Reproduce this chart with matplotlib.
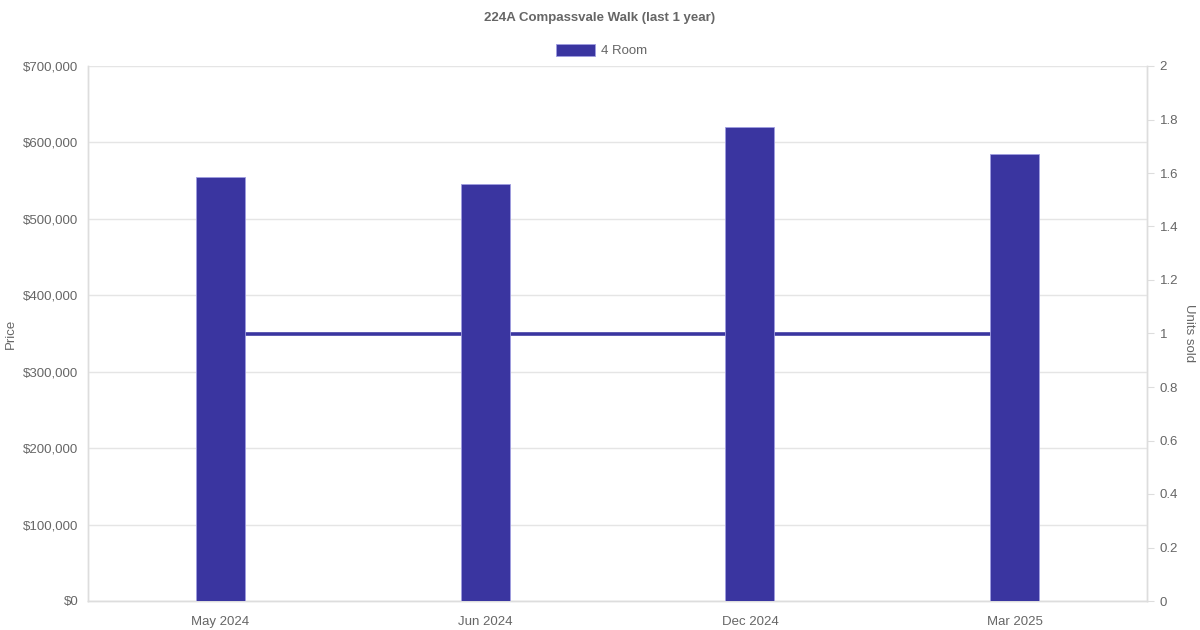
import matplotlib
matplotlib.use('Agg')
import matplotlib.pyplot as plt
from matplotlib.ticker import FuncFormatter, MultipleLocator

plt.rcParams['font.family'] = ['Liberation Sans', 'DejaVu Sans']

# Data
months = ['May 2024', 'Jun 2024', 'Dec 2024', 'Mar 2025']
prices = [555000, 545000, 620000, 585000]
units_sold = [1, 1, 1, 1]

bar_color = '#3a35a0'
text_color = '#666666'
grid_color = '#e5e5e5'

fig = plt.figure(figsize=(12, 6.3), dpi=100)
W, H = 1200, 630
ax = fig.add_axes([88 / W, 1 - 601 / H, (1147 - 88) / W, (601 - 66) / H])
ax2 = ax.twinx()

x = list(range(len(months)))

# line on right axis, drawn behind bars
ax2.plot(x, units_sold, color=bar_color, lw=2.6, zorder=1)
ax2.set_zorder(0)
ax.set_zorder(1)
ax.patch.set_visible(False)

ax.bar(x, prices, width=0.185, color=bar_color, edgecolor='#9f9de0',
       linewidth=0.6, zorder=3)

ax.set_xlim(-0.5, len(months) - 0.5)
ax.set_ylim(0, 700000)
ax2.set_ylim(0, 2)

ax.yaxis.set_major_locator(MultipleLocator(100000))
ax.yaxis.set_major_formatter(FuncFormatter(lambda v, p: '${:,.0f}'.format(v)))
ax2.yaxis.set_major_locator(MultipleLocator(0.2))
ax2.yaxis.set_major_formatter(FuncFormatter(lambda v, p: '{:g}'.format(round(v, 1))))

ax.set_xticks(x)
ax.set_xticklabels(months)

ax.grid(axis='y', color=grid_color, lw=1)
ax.set_axisbelow(True)

for a in (ax, ax2):
    for s in a.spines.values():
        s.set_color('#dddddd')
        s.set_linewidth(1)
    a.spines['top'].set_visible(False)

ax.tick_params(axis='y', length=0, pad=7, labelsize=9.5, colors=text_color)
ax.tick_params(axis='x', length=0, pad=11, labelsize=9.5, colors=text_color)
ax2.tick_params(axis='y', length=5, pad=4, labelsize=9.5, colors=text_color)
ax2.tick_params(axis='y', color='#dddddd')

ax.set_ylabel('Price', color=text_color, fontsize=9.5, va='center')
ax.yaxis.set_label_coords((11 - 88) / 1059, 0.5)
ax2.set_ylabel('Units sold', color=text_color, fontsize=9.5, rotation=-90,
               va='center')
ax2.yaxis.set_label_coords((1189 - 88) / 1059, 0.5)

fig.text(0.5, 1 - 18 / H, '224A Compassvale Walk (last 1 year)', ha='center',
         va='center', fontsize=9.5, fontweight='bold', color=text_color)

# legend
fig.patches.append(plt.Rectangle((556 / W, 1 - 56 / H), 39 / W, 12 / H,
                                 transform=fig.transFigure, facecolor=bar_color,
                                 edgecolor='#9f9de0', lw=0.6))
fig.text(601 / W, 1 - 51 / H, '4 Room', ha='left', va='center', fontsize=9.5,
         color=text_color)

fig.savefig('out.png', dpi=100)
